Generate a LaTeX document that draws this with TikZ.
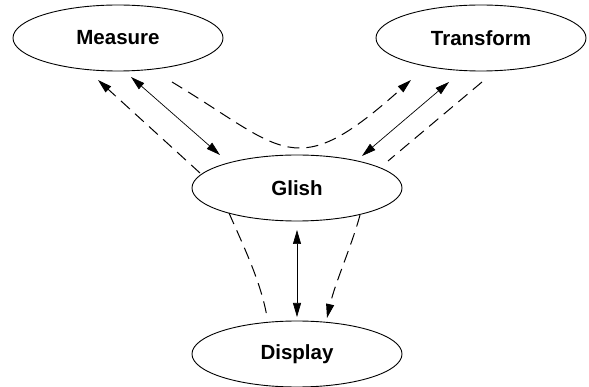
\documentclass[tikz,border=0pt]{standalone}
\usepackage{fontspec}
\setmainfont{Liberation Sans}
\usetikzlibrary{shapes.geometric,arrows.meta,calc}

\tikzset{
  proc/.style={ellipse, draw, line width=0.9pt, minimum width=210pt, minimum height=66pt,
               inner sep=0pt, font=\fontsize{20.5}{24}\selectfont\bfseries},
  tip/.style={-{Triangle[length=14pt,width=8pt]}},
  dtip/.style={{Triangle[length=14pt,width=8pt]}-{Triangle[length=14pt,width=8pt]}},
  dashline/.style={line width=1pt, dash pattern=on 12pt off 7pt},
  solidline/.style={line width=0.7pt},
}

\begin{document}
\begin{tikzpicture}[x=1pt,y=-1pt]
  \useasboundingbox (0,0) rectangle (589,387);

  % processes
  \node[proc] (m) at (118,38)  {Measure};
  \node[proc] (t) at (481,38)  {Transform};
  \node[proc] (g) at (297,188) {Glish};
  \node[proc] (d) at (297,354) {Display};

  % Measure <-> Glish
  \draw[dashline,tip] ($(g)+(-97,-15)$) -- ($(m)+(-20,42)$);
  \draw[solidline,dtip] ($(m)+(13,39)$) -- ($(g)+(-77,-33)$);

  % Measure -> Transform, passing over Glish
  \draw[dashline,tip] ($(m)+(54,44)$) .. controls +(113,68) and +(-117,105) .. ($(t)+(-70,42)$);

  % Transform <-> Glish
  \draw[solidline,dtip] ($(t)+(-32,44)$) -- ($(g)+(65,-32)$);
  \draw[dashline] ($(t)+(1,44)$) -- ($(g)+(91,-27)$);

  % Glish <-> Display
  \draw[dashline] ($(g)+(-68,25)$) .. controls +(14,32) and +(-6,-35) .. ($(d)+(-30,-37)$);
  \draw[solidline,dtip] ($(g)+(0,42)$) -- ($(d)+(0,-37)$);
  \draw[dashline,tip] ($(g)+(63,27)$) .. controls +(-8,30) and +(8,-35) .. ($(d)+(30,-36)$);
\end{tikzpicture}
\end{document}
